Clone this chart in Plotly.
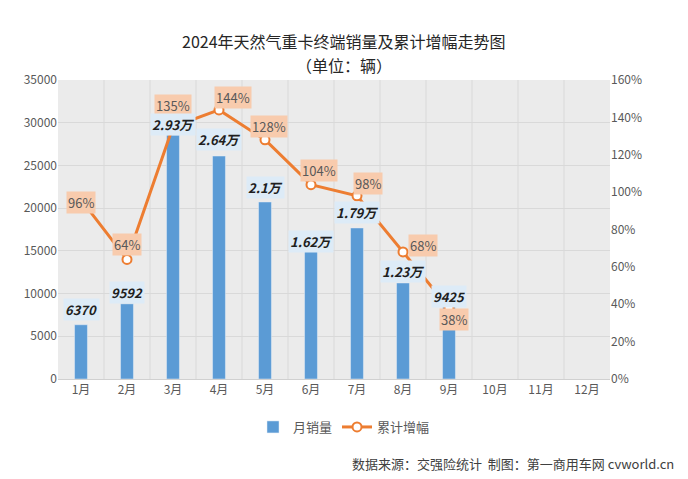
import plotly.graph_objects as go

months = ["1月","2月","3月","4月","5月","6月","7月","8月","9月","10月","11月","12月"]
sales = [6350, 8800, 28560, 26100, 20720, 14980, 17680, 11240, 8540]
sales_labels = ["6370","9592","2.93万","2.64万","2.1万","1.62万","1.79万","1.23万","9425"]
sales_label_shift = [15, 11, 11, 17, 14, 10, 15, 11, 10]
growth = [96, 64, 135, 144, 128, 104, 98, 68, 38]
growth_labels = ["96%","64%","135%","144%","128%","104%","98%","68%","38%"]
growth_shift = [(0,-3),(0,15),(0,21),(14,12),(4,13),(8,14),(11,12),(20,6),(5,-12)]

W, H = 680, 471
fig = go.Figure()
fig.add_bar(x=months[:9], y=sales, name="月销量", marker_color="#5B9BD5", width=0.28)
fig.add_scatter(x=months[:9], y=growth, name="累计增幅", yaxis="y2", mode="lines+markers",
                line=dict(color="#ED7D31", width=3),
                marker=dict(size=9, color="white", line=dict(color="#ED7D31", width=2)))
ann = []
for m, t, g, (dx, dy) in zip(months, growth_labels, growth, growth_shift):
    ann.append(dict(x=m, y=g, yref="y2", text=t, showarrow=False, xshift=dx, yshift=dy,
                    bgcolor="#F8CBAD", font=dict(size=13, color="#595959")))
for m, t, yv, s in zip(months, sales_labels, sales, sales_label_shift):
    ann.append(dict(x=m, y=yv, text="<b><i>%s</i></b>" % t, showarrow=False, yshift=s,
                    bgcolor="#DDEBF7", font=dict(size=13, color="#1F1F1F")))
l, r, t, b = 50, 78, 72, 100
def px(xp, yp):
    return (xp - l) / (W - l - r), (H - b - yp) / (H - t - b)
for text, (xp, yp), anc, sz in [
    ("2024年天然气重卡终端销量及累计增幅走势图", (336, 33), "center", 16),
    ("（单位：辆）", (336, 57), "center", 16),
    ("数据来源：交强险统计  制图：第一商用车网 cvworld.cn", (668, 455), "right", 13),
]:
    xx, yy = px(xp, yp)
    ann.append(dict(x=xx, y=yy, xref="paper", yref="paper", xanchor=anc, yanchor="middle",
                    text=text, showarrow=False,
                    font=dict(size=sz, color="#262626" if sz == 16 else "#404040")))
lx, ly = px(336, 419)
fig.update_layout(
    width=W, height=H, paper_bgcolor="white", plot_bgcolor="#EBEBEB",
    font=dict(family="Noto Sans CJK SC", size=12, color="#595959"),
    margin=dict(l=l, r=r, t=t, b=b, autoexpand=False),
    xaxis=dict(categoryorder="array", categoryarray=months, range=[-0.5, 11.5],
               showgrid=False, linecolor="#D0D0D0", tickfont=dict(size=12)),
    yaxis=dict(range=[0, 35000], dtick=5000, tickformat="d", gridcolor="#D9D9D9", zeroline=False,
               tickfont=dict(size=12)),
    yaxis2=dict(range=[0, 160], dtick=20, ticksuffix="%", overlaying="y", side="right",
                showgrid=False, zeroline=False, tickfont=dict(size=12)),
    legend=dict(orientation="h", x=lx, xanchor="center", y=ly, yanchor="middle", font=dict(size=13)),
    bargap=0.7, annotations=ann,
    shapes=[dict(type="line", xref="x", yref="paper", x0=i+0.5, x1=i+0.5, y0=0, y1=1,
                 line=dict(color="#D9D9D9", width=1), layer="below") for i in range(11)],
)
fig.write_html("out.html")
